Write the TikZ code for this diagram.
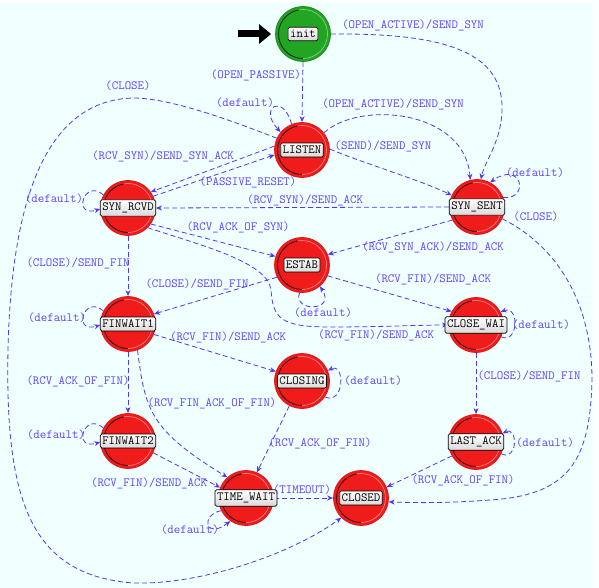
\documentclass[tikz,border=0pt]{standalone}
\usetikzlibrary{arrows.meta}
\definecolor{bgc}{RGB}{240,255,255}
\definecolor{stred}{RGB}{240,28,28}
\definecolor{stredd}{RGB}{225,20,20}
\definecolor{stgreen}{RGB}{34,165,34}
\definecolor{stgreend}{RGB}{20,140,20}
\definecolor{edgec}{RGB}{80,55,245}
\definecolor{labc}{RGB}{95,65,255}
\pgfdeclarelayer{bglayer}
\pgfdeclarelayer{edgelayer}
\pgfsetlayers{bglayer,edgelayer,main}
\tikzset{
  statecirc/.style={circle, minimum size=55pt, inner sep=0pt, fill=stred, draw=stredd, line width=0.8pt,
    path picture={
      \draw[black!80!stred, line width=0.8pt] (path picture bounding box.center) ++(100:24.5pt) arc[start angle=100, end angle=270, radius=24.5pt];
      \draw[white!50!stred, line width=0.6pt] (path picture bounding box.center) ++(-90:24.5pt) arc[start angle=-90, end angle=100, radius=24.5pt];
    }},
  initcirc/.style={circle, minimum size=55pt, inner sep=0pt, fill=stgreen, draw=stgreend, line width=0.8pt,
    path picture={
      \draw[black!80!stgreen, line width=0.8pt] (path picture bounding box.center) ++(100:24.5pt) arc[start angle=100, end angle=270, radius=24.5pt];
      \draw[white!50!stgreen, line width=0.6pt] (path picture bounding box.center) ++(-90:24.5pt) arc[start angle=-90, end angle=100, radius=24.5pt];
    }},
  statebox/.style={draw=black, line width=0.7pt, rounded corners=1.5pt, top color=white, bottom color=black!15,
    inner xsep=2pt, inner ysep=3pt, font=\ttfamily\fontsize{12.5}{13}\selectfont, text=black},
  lab/.style={text=labc, font=\ttfamily\fontsize{12.5}{13}\selectfont, inner sep=0.5pt},
  trans/.style={draw=edgec, line width=0.8pt, dash pattern=on 5pt off 3pt, -{Stealth[length=6pt, width=5pt]}}
}
\begin{document}
\begin{tikzpicture}[x=1pt,y=-1pt]
\begin{pgfonlayer}{bglayer}
\fill[white] (0,0) rectangle (599,588);
\fill[bgc] (0,2) rectangle (593,588);
\end{pgfonlayer}
\useasboundingbox (0,0) rectangle (599,588);

% states
\node[initcirc] (init) at (303,34) {};
\node[statebox] (init-t) at (init) {init};
\node[statecirc] (listen) at (302,150) {};
\node[statebox] (listen-t) at (listen) {LISTEN};
\node[statecirc] (synrcvd) at (128,208) {};
\node[statebox] (synrcvd-t) at (synrcvd) {SYN\_RCVD};
\node[statecirc] (synsent) at (477,207) {};
\node[statebox] (synsent-t) at (synsent) {SYN\_SENT};
\node[statecirc] (estab) at (302,265) {};
\node[statebox] (estab-t) at (estab) {ESTAB};
\node[statecirc] (finwait1) at (128,324) {};
\node[statebox] (finwait1-t) at (finwait1) {FINWAIT1};
\node[statecirc] (closewait) at (476,325) {};
\node[statebox] (closewait-t) at (closewait) {CLOSE\_WAI};
\node[statecirc] (closing) at (302,381) {};
\node[statebox] (closing-t) at (closing) {CLOSING};
\node[statecirc] (finwait2) at (128,441) {};
\node[statebox] (finwait2-t) at (finwait2) {FINWAIT2};
\node[statecirc] (lastack) at (476,442) {};
\node[statebox] (lastack-t) at (lastack) {LAST\_ACK};
\node[statecirc] (timewait) at (246,498) {};
\node[statebox] (timewait-t) at (timewait) {TIME\_WAIT};
\node[statecirc] (closed) at (361,498) {};
\node[statebox] (closed-t) at (closed) {CLOSED};

% start arrow
\coordinate (initsrc) at (238,34);
\draw[line width=7pt, -{Triangle[length=12pt,width=19pt]}] (initsrc) -- ([xshift=-4pt]init.west);

% transitions
\begin{pgfonlayer}{edgelayer}
\draw[trans] (init.south) -- (listen.north);
\draw[trans] (init.east) .. controls (440,33) and (500,50) .. (502,105) .. controls (503,140) and (485,160) .. (synsent.82);
\draw[trans] (listen.112) .. controls (283,92) and (258,108) .. (listen.140);
\draw[trans] (listen.38) .. controls (360,100) and (465,110) .. (synsent.104);
\draw[trans] (listen.2) .. controls (360,162) and (420,180) .. (synsent.155);
\draw[trans] (listen.155) .. controls (230,120) and (170,98) .. (133,98) .. controls (60,100) and (12,170) .. (8,350) .. controls (5,500) and (30,575) .. (133,583) .. controls (200,585) and (290,555) .. (closed.225);
\draw[trans] (listen.172) -- (synrcvd.35);
\draw[trans] (synrcvd.25) -- (listen.190);
\draw[trans] (synsent.180) -- (synrcvd.0);
\draw[trans] (synsent.20) .. controls (530,200) and (522,160) .. (synsent.62);
\draw[trans] (synsent.-25) .. controls (555,245) and (592,300) .. (592,380) .. controls (590,460) and (570,495) .. (490,500) .. controls (450,503) and (420,503) .. (closed.-8);
\draw[trans] (synsent.208) -- (estab.22);
\draw[trans] (synrcvd.-35) -- (estab.162);
\draw[trans] (synrcvd.-45) .. controls (200,245) and (268,262) .. (271,290) .. controls (273,318) and (280,327) .. (330,327) .. controls (380,327) and (420,325) .. (closewait.180);
\draw[trans] (estab.265) .. controls (292,312) and (337,312) .. (estab.-50);
\draw[trans] (estab.206) -- (finwait1.21);
\draw[trans] (estab.-23) -- (closewait.151);
\draw[trans] (synrcvd.south) -- (finwait1.north);
\draw[trans] (synrcvd.152) .. controls (84,178) and (72,218) .. (synrcvd.182);
\draw[trans] (finwait1.152) .. controls (84,294) and (72,334) .. (finwait1.182);
\draw[trans] (finwait1.-22) -- (closing.160);
\draw[trans] (finwait1.south) -- (finwait2.north);
\draw[trans] (finwait1.-70) .. controls (145,410) and (150,430) .. (timewait.132);
\draw[trans] (closewait.-25) .. controls (518,345) and (520,305) .. (closewait.28);
\draw[trans] (closewait.south) -- (lastack.north);
\draw[trans] (closing.-35) .. controls (345,405) and (345,362) .. (closing.22);
\draw[trans] (closing.243) -- (timewait.67);
\draw[trans] (finwait2.152) .. controls (84,411) and (72,451) .. (finwait2.182);
\draw[trans] (finwait2.-25) -- (timewait.158);
\draw[trans] (lastack.-25) .. controls (518,462) and (518,426) .. (lastack.18);
\draw[trans] (lastack.210) -- (closed.23);
\draw[trans] (timewait.0) -- (closed.180);
\draw[trans] (timewait.207) .. controls (200,515) and (205,540) .. (timewait.236);
\end{pgfonlayer}

% labels
\node[lab] (l1) at (256,75) {(OPEN\_PASSIVE)};
\node[lab] (l2) at (413,25) {(OPEN\_ACTIVE)/SEND\_SYN};
\node[lab] (l3) at (245,103) {(default)};
\node[lab] (l4) at (393,104) {(OPEN\_ACTIVE)/SEND\_SYN};
\node[lab] (l5) at (383,146) {(SEND)/SEND\_SYN};
\node[lab] (l6) at (128,86) {(CLOSE)};
\node[lab] (l7) at (163,156) {(RCV\_SYN)/SEND\_SYN\_ACK};
\node[lab] (l8) at (248,182) {(PASSIVE\_RESET)};
\node[lab] (l9) at (305,200) {(RCV\_SYN)/SEND\_ACK};
\node[lab] (l10) at (535,173) {(default)};
\node[lab] (l11) at (536,217) {(CLOSE)};
\node[lab] (l12) at (433,247) {(RCV\_SYN\_ACK)/SEND\_ACK};
\node[lab] (l13) at (238,227) {(RCV\_ACK\_OF\_SYN)};
\node[lab] (l14) at (376,335) {(RCV\_FIN)/SEND\_ACK};
\node[lab] (l15) at (323,313) {(default)};
\node[lab] (l16) at (197,284) {(CLOSE)/SEND\_FIN};
\node[lab] (l17) at (433,279) {(RCV\_FIN)/SEND\_ACK};
\node[lab] (l18) at (78,263) {(CLOSE)/SEND\_FIN};
\node[lab] (l19) at (54,199) {(default)};
\node[lab] (l20) at (57,318) {(default)};
\node[lab] (l21) at (228,337) {(RCV\_FIN)/SEND\_ACK};
\node[lab] (l22) at (78,381) {(RCV\_ACK\_OF\_FIN)};
\node[lab] (l23) at (212,403) {(RCV\_FIN\_ACK\_OF\_FIN)};
\node[lab] (l24) at (541,325) {(default)};
\node[lab] (l25) at (529,376) {(CLOSE)/SEND\_FIN};
\node[lab] (l26) at (373,381) {(default)};
\node[lab] (l27) at (320,443) {(RCV\_ACK\_OF\_FIN)};
\node[lab] (l28) at (56,435) {(default)};
\node[lab] (l29) at (149,483) {(RCV\_FIN)/SEND\_ACK};
\node[lab] (l30) at (545,443) {(default)};
\node[lab] (l31) at (463,480) {(RCV\_ACK\_OF\_FIN)};
\node[lab] (l32) at (302,490) {(TIMEOUT)};
\node[lab] (l33) at (190,530) {(default)};
\end{tikzpicture}
\end{document}
